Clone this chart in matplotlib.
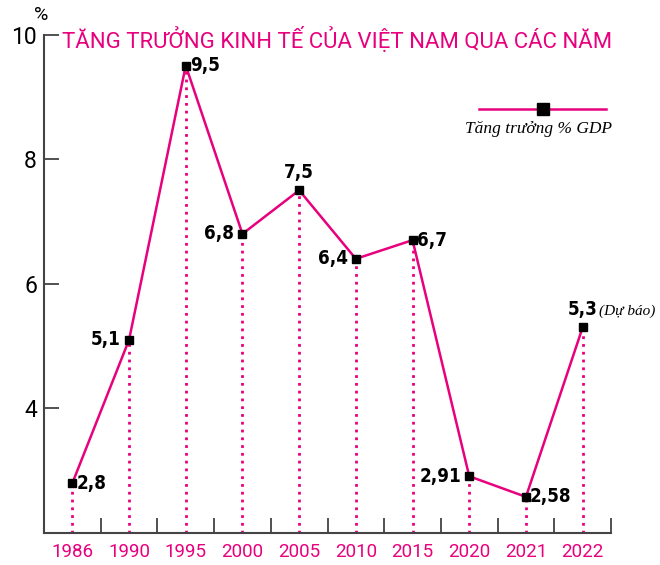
import matplotlib
matplotlib.use("Agg")
import matplotlib.pyplot as plt

years = ["1986", "1990", "1995", "2000", "2005", "2010", "2015", "2020", "2021", "2022"]
growth = [2.8, 5.1, 9.5, 6.8, 7.5, 6.4, 6.7, 2.91, 2.58, 5.3]
labels = ["2,8", "5,1", "9,5", "6,8", "7,5", "6,4", "6,7", "2,91", "2,58", "5,3"]
# where each value label sits relative to its point
label_side = ["right", "left", "right", "left", "top", "left", "right", "left", "right", "top"]

pink = "#e8007d"
x = list(range(len(years)))

fig = plt.figure(figsize=(6.6, 5.65), dpi=100)
ax = fig.add_axes([44 / 660, 1 - 533 / 565, (611 - 44) / 660, (533 - 34.5) / 565])

# dotted drop lines
for xi, v in zip(x, growth):
    ax.plot([xi, xi], [2, v], color=pink, lw=2, ls=(0, (1, 1.8)), zorder=1)

ax.plot(x, growth, color=pink, lw=1.8, marker="s", ms=6, mfc="black", mec="black", zorder=3)

lab_font = dict(family="DejaVu Sans", stretch="condensed", weight="bold", size=13.5, color="black")
for xi, v, t, side in zip(x, growth, labels, label_side):
    if side == "right":
        ax.annotate(t, (xi, v), xytext=(3, 0), textcoords="offset points", ha="left", va="center", **lab_font)
    elif side == "left":
        ax.annotate(t, (xi, v), xytext=(-6, 0), textcoords="offset points", ha="right", va="center", **lab_font)
    else:
        ax.annotate(t, (xi, v), xytext=(0, 6), textcoords="offset points", ha="center", va="bottom", **lab_font)

ax.annotate("(Dự báo)", (x[-1], growth[-1]), xytext=(12, 7), textcoords="offset points",
            ha="left", va="bottom", family="Liberation Serif", style="italic", size=11)

ax.set_xlim(-0.5, len(years) - 0.5)
ax.set_ylim(2, 10)
ax.set_yticks([4, 6, 8, 10])
ax.set_xticks(x)
ax.set_xticklabels(years, color=pink, fontsize=13.5, family="Roboto")
ax.set_xticks([i + 0.5 for i in x], minor=True)
ax.tick_params(axis="x", which="major", length=0, pad=7)
ax.tick_params(axis="x", which="minor", direction="in", length=11, width=1.2, color="#333333")
ax.tick_params(axis="y", direction="in", length=11, width=1.2, color="#333333", labelsize=16.5,
               labelcolor="black", pad=5)
for lbl in ax.get_yticklabels():
    lbl.set_family("Roboto")

for s in ["top", "right"]:
    ax.spines[s].set_visible(False)
for s in ["left", "bottom"]:
    ax.spines[s].set_color("#444444")
    ax.spines[s].set_linewidth(1.5)

fig.text(41 / 660, 1 - 15 / 565, "%", ha="center", va="center", fontsize=14, family="Roboto")
fig.text(337 / 660, 1 - 40 / 565, "TĂNG TRƯỞNG KINH TẾ CỦA VIỆT NAM QUA CÁC NĂM",
         ha="center", va="center", color=pink, fontsize=15.9, family="Roboto")

# legend drawn by hand
ax.plot([0.767, 0.991], [0.85, 0.85], transform=ax.transAxes, color=pink, lw=1.8)
ax.plot([0.88], [0.85], transform=ax.transAxes, marker="s", ms=9, color="black")
ax.text(0.872, 0.81, "Tăng trưởng % GDP", transform=ax.transAxes, ha="center", va="center",
        family="Liberation Serif", style="italic", fontsize=12.5)

fig.savefig("out.png", dpi=100)
